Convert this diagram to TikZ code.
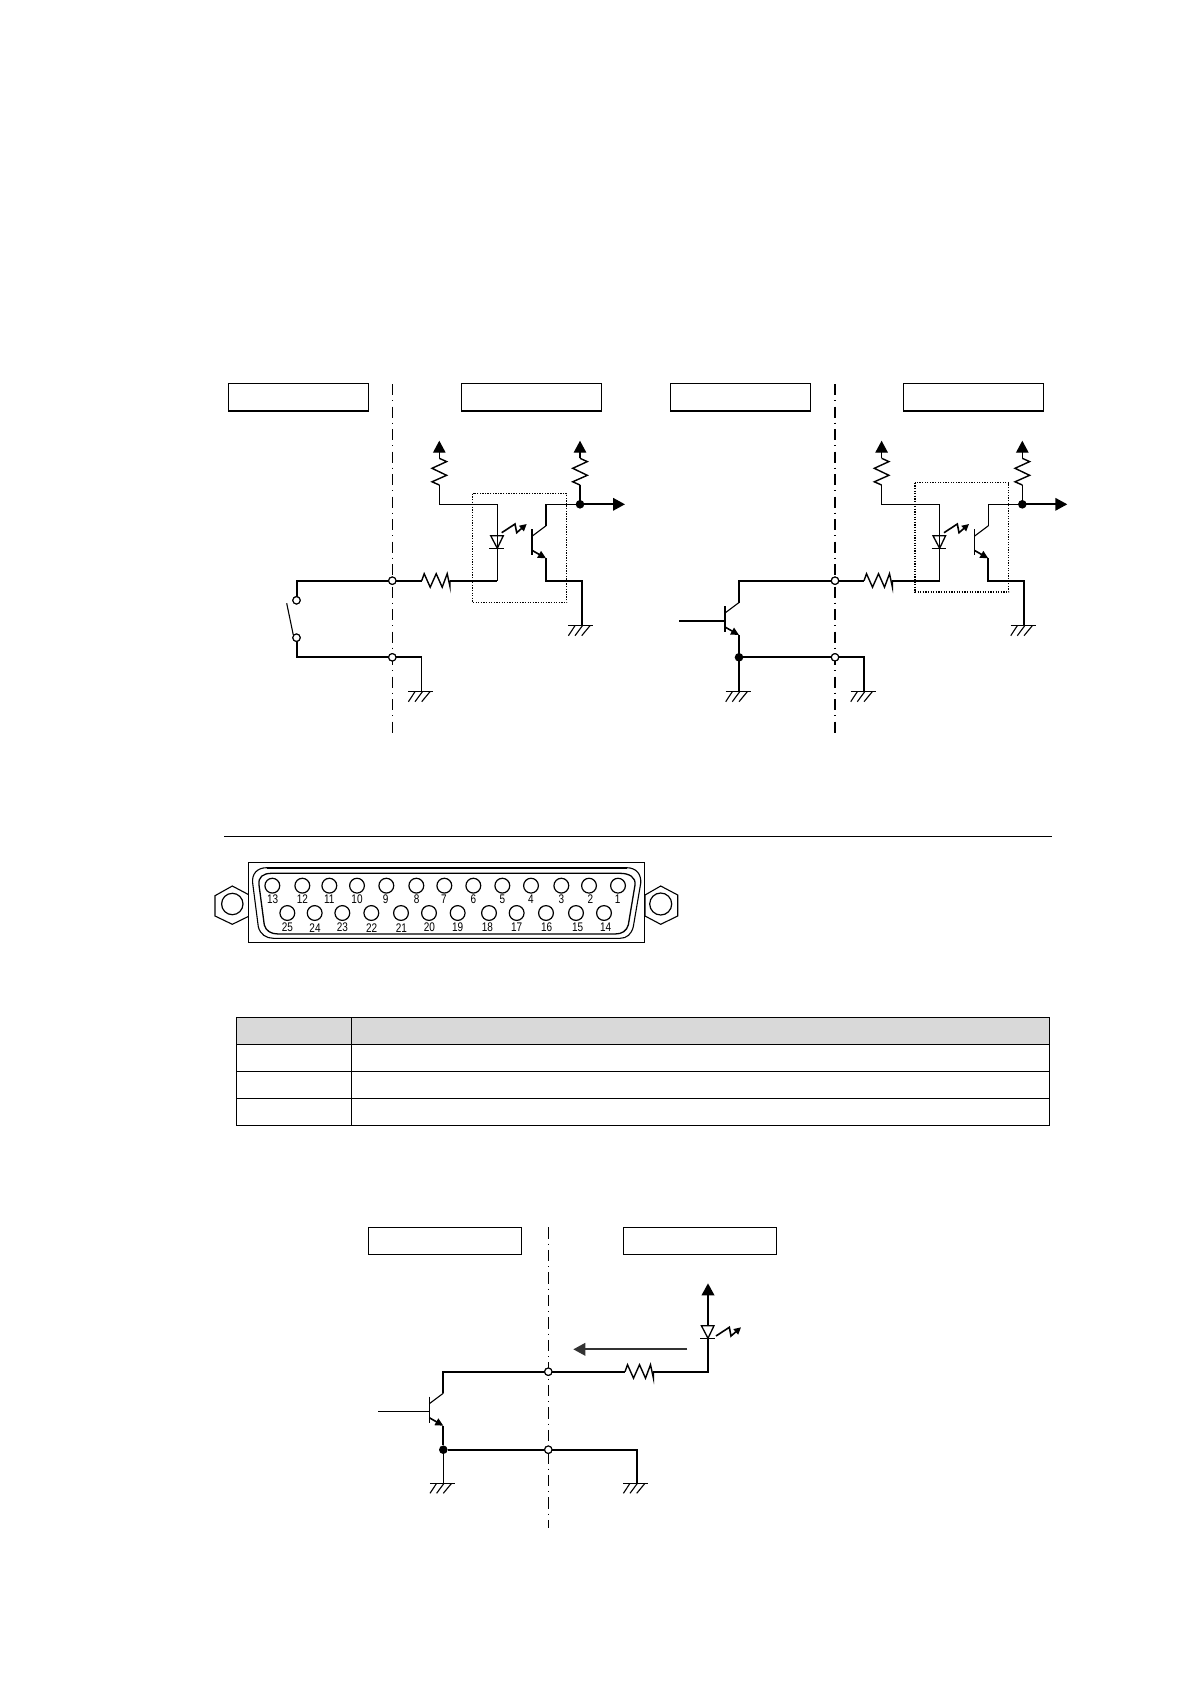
\documentclass[tikz,border=0pt]{standalone}
\usepackage{fontspec}
\usepackage{graphicx}
\setmainfont{Liberation Sans}
\usetikzlibrary{arrows.meta}
\tikzset{
  thinw/.style={line width=1.1pt,line join=miter},
  thickw/.style={line width=2pt,line join=miter},
  labelbox/.style={draw,line width=1.4pt,anchor=north west,minimum width=140pt,minimum height=27.3pt,inner sep=0pt,outer sep=0pt},
  widebox/.style={labelbox,minimum width=153.4pt},
  dashdot/.style={line width=1pt,dash pattern=on 11.3pt off 4.9pt on 1.1pt off 5.2pt},
  junction/.style={circle,draw,fill=white,line width=1.1pt,minimum size=7.4pt,inner sep=0pt,outer sep=0pt},
  soldot/.style={circle,fill=black,minimum size=8.6pt,inner sep=0pt,outer sep=0pt},
  bigtip/.style={-{Triangle[length=12pt,width=12.5pt]}},
  smalltip/.style={-{Triangle[length=7pt,width=7pt]}},
  cell/.style={draw,line width=1.2pt,anchor=north west,inner sep=0pt,outer sep=0pt,minimum height=27pt},
  optobox/.style={line width=1.3pt,dash pattern=on 1.3pt off 1.3pt},
  pinhole/.style={circle,draw,line width=1.2pt,minimum size=14.8pt,inner sep=0pt},
  pinnum/.style={inner sep=0pt,font=\fontsize{12.5}{12.5}\selectfont},
  pics/gnd/.style={code={
    \draw[thinw] (-13.4,0) -- (11.6,0);
    \draw[thinw] (-6.7,0) -- (-13.3,10) (0.7,0) -- (-6.7,10) (8.3,0) -- (0,10);
  }},
  pics/resh/.style={code={
    \draw[line width=1.4pt] (0,0) -- (2.5,-7) -- (8.5,6.5) -- (14.5,-7) -- (20.5,6.5) -- (25.5,-7) -- (28.3,6) -- (28.3,0);
    \coordinate (-a) at (0,0);
    \coordinate (-b) at (28.3,0);
  }},
  pics/resv/.style={code={
    \draw[line width=1.4pt] (0,0) -- (7.3,3.3) -- (-7.3,10) -- (7.3,17) -- (-7.3,23.5) -- (0,26.7);
    \coordinate (-a) at (0,0);
    \coordinate (-b) at (0,26.7);
  }},
  pics/led/.style={code={
    \draw[thinw] (-8,0) -- (6.7,0);
    \draw[line width=1.3pt,line join=miter] (-6.6,-12.6) -- (6,-12.6) -- (0,0) -- cycle;
  }},
  pics/ray/.style={code={
    \draw[line width=1.6pt,smalltip] (0,0) -- (13.3,-8.7) -- (15,0) -- (25,-8.7);
  }},
  pics/npn/.style={code={
    \draw[thinw] (0,0) -- (0,26);
    \coordinate (-base) at (0,15);
    \coordinate (-c) at (14,-3.5);
    \coordinate (-e) at (14,29);
    \draw[thinw] (0,7) -- (-c);
    \draw[line width=1.6pt,{}-{Triangle[length=8pt,width=7.5pt]}] (0,21) -- (-e);
  }}
}
\begin{document}
\begin{tikzpicture}[x=1pt,y=-1pt]
\useasboundingbox (0,0) rectangle (1191,1684);
\fill[white] (0,0) rectangle (1191,1684);

% ---------- header boxes, upper diagrams
\node[labelbox] (boxA) at (228.3,383.7) {};
\node[labelbox] (boxB) at (461.3,383.7) {};
\node[labelbox] (boxC) at (670.3,383.7) {};
\node[labelbox] (boxD) at (903.3,383.7) {};

% ---------- dash-dot separators
\coordinate (sepAt) at (392.3,384);
\coordinate (sepAb) at (392.3,732.7);
\coordinate (sepBt) at (835,384);
\coordinate (sepBb) at (835,732.7);
\draw[dashdot] (sepAt) -- (sepAb);
\draw[dashdot,line width=1.7pt] (sepBt) -- (sepBb);

% ---------- optocoupler stage, used on both sides
\foreach \s/\dx in {L/0,R/442.3}{
\begin{scope}[xshift=\dx pt]
  \pic (rin\s) at (421.7,580.7) {resh};
  \coordinate (an\s) at (497.3,504.3);
  \coordinate (cat\s) at (497.3,580.7);
  \pic (led\s) at (497.3,548.3) {led};
  \pic at (501.7,532.7) {ray};
  \pic (rp\s) at (439.3,458.3) {resv};
  \coordinate (vup\s) at (439.3,440.7);
  \draw[line width=1.4pt,bigtip] (rp\s-a) -- (vup\s);
  \draw[thinw] (rp\s-b) |- (an\s) -- (cat\s);
  \draw[thickw] (rin\s-b) -- (cat\s);
  \pic (q\s) at (532,529.3) {npn};
  \coordinate (out\s) at (580,504.3);
  \coordinate (end\s) at (625,504.3);
  \coordinate (ecorn\s) at (546,580.7);
  \coordinate (gcorn\s) at (581.7,580.7);
  \coordinate (gn\s) at (581.7,625.7);
  \draw[line width=1.4pt,line join=miter] (q\s-c) |- (out\s);
  \draw[thickw,bigtip] (out\s) -- (end\s);
  \draw[thickw] (q\s-e) -- (ecorn\s) -- (gcorn\s) -- (gn\s);
  \pic at (gn\s) {gnd};
  \pic (ro\s) at (580,458.3) {resv};
  \coordinate (oup\s) at (580,440.7);
  \draw[line width=1.4pt,bigtip] (ro\s-a) -- (oup\s);
  \draw[line width=1.4pt] (ro\s-b) -- (out\s);
  \node[soldot] (dot\s) at (out\s) {};
\end{scope}
}
\draw[optobox] (472.7,493.7) rectangle (566.7,602.7);
\draw[optobox] (915,482.7) rectangle (1008.7,592);

% ---------- left diagram: switch
\coordinate (swT) at (296.5,580.7);
\coordinate (swB) at (296.5,657.3);
\node[junction] (jA1) at (392.3,580.7) {};
\node[junction] (jA2) at (392.3,657.3) {};
\node[junction] (sw1) at (296.5,600.3) {};
\node[junction] (sw2) at (296.5,637.7) {};
\coordinate (gtA) at (421.7,657.3);
\coordinate (gA) at (421.7,691.7);
\draw[thickw] (sw1) -- (swT) -- (jA1) -- (rinL-a);
\draw[thickw] (sw2) -- (swB) -- (jA2) -- (gtA);
\draw[thinw] (gtA) -- (gA);
\pic at (gA) {gnd};
\coordinate (swa) at (286.7,603.3);
\coordinate (swb) at (293.3,635);
\draw[thinw] (swa) -- (swb);
\node[junction] at (jA1) {};
\node[junction] at (jA2) {};
\node[junction] at (sw1) {};
\node[junction] at (sw2) {};

% ---------- right diagram: transistor
\pic (qB) at (725,606) {npn};
\coordinate (inB) at (679.3,621);
\draw[thinw] (inB) -- (qB-base);
\node[junction] (jB1) at (835,580.7) {};
\node[junction] (jB2) at (835,657.3) {};
\coordinate (gB1) at (739,691.7);
\coordinate (gtB) at (864,657.3);
\coordinate (gB2) at (864,691.7);
\node[soldot] (dotB) at (739,657.3) {};
\draw[thickw] (qB-c) |- (jB1) -- (rinR-a);
\draw[thickw] (qB-e) -- (gB1);
\draw[thickw] (dotB) -- (jB2) -- (gtB) -- (gB2);
\pic at (gB1) {gnd};
\pic at (gB2) {gnd};
\node[junction] at (jB1) {};
\node[junction] at (jB2) {};

% ---------- rule
\coordinate (ruleL) at (224,836);
\coordinate (ruleR) at (1051.7,836);
\draw[line width=0.9pt] (ruleL) -- (ruleR);

% ---------- D-sub connector
\draw[line width=1.1pt,line join=miter] (232.3,886) -- (249.3,895) -- (249.3,916) -- (232.3,924.3) -- (215,916) -- (215,895.7) -- cycle;
\draw[line width=1.1pt,line join=miter] (660.7,886) -- (677.7,895) -- (677.7,916) -- (660.7,924.3) -- (645,916) -- (645,895) -- cycle;
\node[circle,draw,line width=1.2pt,minimum size=21.4pt,inner sep=0pt] (nutL) at (232.3,904) {};
\node[circle,draw,line width=1.2pt,minimum size=22pt,inner sep=0pt] (nutR) at (660.7,904) {};
\node[draw,fill=white,line width=1.2pt,anchor=north west,minimum width=396pt,minimum height=80pt,inner sep=0pt,outer sep=0pt] (shell) at (248.3,862.3) {};
\draw[line width=1.1pt] (266.7,867.7) -- (626.7,867.7) .. controls (636,867.7) and (641.5,874) .. (640.7,883.3) -- (633.3,926.7) .. controls (631.5,934) and (627,938.3) .. (620,938.3) -- (273.3,938.3) .. controls (266,938.3) and (260,934) .. (258.3,926.7) -- (252.7,883.3) .. controls (251.5,874) and (257,867.7) .. (266.7,867.7) -- cycle;
\draw[line width=2pt] (267,867.7) -- (626.7,867.7);
\draw[line width=1.3pt] (271.7,873.3) -- (620,873.3) .. controls (629,873.3) and (636,877) .. (635,885) -- (628.3,925) .. controls (626.5,931) and (622,934) .. (615,934) -- (278.3,934) .. controls (271,934) and (266,931) .. (264.3,925) -- (259,885) .. controls (258,877) and (263,873.3) .. (271.7,873.3) -- cycle;
\foreach \n/\cx/\lx in {13/217/218,12/307/307,11/388/388,10/471/471,9/559/557,8/649/650,7/733/732,6/820/820,5/907/907,4/993/993,3/1084/1084,2/1167/1171,1/1254/1253}{
  \node[pinhole] (pin\n) at ({200+\cx/3},{830+167/3}) {};
  \node[pinnum] (num\n) at ({200+\lx/3},{830+208/3}) {\scalebox{0.8}[1]{\n}};
}
\foreach \n/\cx/\lx in {25/262/262,24/344/345,23/427/427,22/514/515,21/603/604,20/687/688,19/773/773,18/867/862,17/950/950,16/1038/1040,15/1128/1133,14/1212/1217}{
  \node[pinhole] (pin\n) at ({200+\cx/3},{830+249/3}) {};
  \node[pinnum] (num\n) at ({200+\lx/3},{830+293/3}) {\scalebox{0.8}[1]{\n}};
}

% ---------- table (empty cells)
\node[cell,fill=black!15,minimum width=115.3pt] (th1) at (236.2,1017.3) {};
\node[cell,fill=black!15,minimum width=697.8pt] (th2) at (351.5,1017.3) {};
\foreach \r/\yy in {1/1044.3,2/1071.3,3/1098.3}{
  \node[cell,minimum width=115.3pt] (c\r a) at (236.2,\yy) {};
  \node[cell,minimum width=697.8pt] (c\r b) at (351.5,\yy) {};
}

% ---------- lower diagram
\node[widebox] (boxE) at (368.3,1227.3) {};
\node[widebox] (boxF) at (623.3,1227.3) {};
\coordinate (sepCt) at (548.3,1227.3);
\coordinate (sepCb) at (548.3,1527.7);
\draw[dashdot] (sepCt) -- (sepCb);
\pic (qC) at (429.3,1396.7) {npn};
\coordinate (inC) at (378,1411.7);
\draw[thinw] (inC) -- (qC-base);
\node[junction] (jC1) at (548.3,1371.7) {};
\node[junction] (jC2) at (548.3,1449.7) {};
\node[soldot] (dotC) at (443.3,1449.7) {};
\begin{scope}[shift={(625,1371.7)},xscale=1.1]
  \pic (rC) at (0,0) {resh};
\end{scope}
\coordinate (ledC) at (708,1338.3);
\coordinate (cornerC) at (708,1371.7);
\coordinate (ledT) at (708,1326);
\coordinate (vupC) at (708,1283.3);
\coordinate (gC1) at (443.3,1483.3);
\coordinate (gC2) at (636.7,1483.3);
\coordinate (cornerD) at (636.7,1449.7);
\draw[thickw] (qC-c) |- (jC1) -- (rC-a);
\draw[thickw] (rC-b) -- (cornerC) -- (ledC);
\draw[thickw] (qC-e) -- (dotC);
\draw[thinw] (dotC) -- (gC1);
\draw[thickw] (dotC) -- (jC2) -- (cornerD) -- (gC2);
\pic at (gC1) {gnd};
\pic at (gC2) {gnd};
\pic at (ledC) {led};
\draw[thickw,bigtip] (ledT) -- (vupC);
\pic at (716,1336) {ray};
\coordinate (curA) at (687.3,1349.3);
\coordinate (curB) at (573.3,1349.3);
\draw[thickw,color=black!80,bigtip] (curA) -- (curB);
\node[junction] at (jC1) {};
\node[junction] at (jC2) {};
\end{tikzpicture}
\end{document}
